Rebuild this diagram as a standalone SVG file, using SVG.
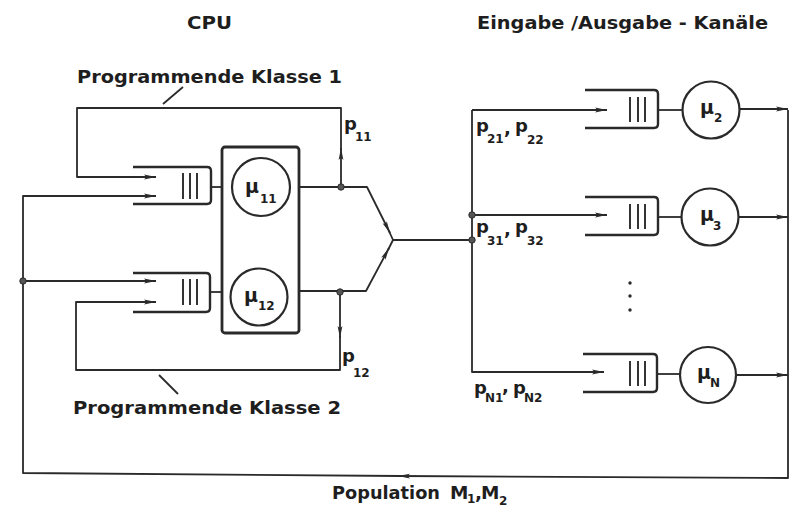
<svg xmlns="http://www.w3.org/2000/svg" width="794" height="515" viewBox="0 0 794 515">
<defs>
<marker id="arr" viewBox="0 0 12 6" refX="12" refY="3" markerWidth="12" markerHeight="6" markerUnits="userSpaceOnUse" orient="auto">
<path d="M0,0.6 L12,3 L0,5.4 L2.5,3 z" fill="#2a2a2a"/>
</marker>
</defs>
<style>
.ln{fill:none;stroke:#2a2a2a;stroke-width:1.8;stroke-linejoin:round}
.q{fill:none;stroke:#2a2a2a;stroke-width:2.4;stroke-linejoin:round}
.bar{stroke:#2a2a2a;stroke-width:1.9}
.srv{fill:none;stroke:#2a2a2a;stroke-width:2.2}
.box{fill:none;stroke:#2a2a2a;stroke-width:2.8}
.dot{fill:#555;stroke:#2a2a2a;stroke-width:1}
text{font-family:"DejaVu Sans","Liberation Sans",sans-serif;fill:#1e1e1e;font-weight:bold}
.t{font-size:18.5px}
.lab{font-size:18px}
.sub{font-size:12px}
.mu{font-size:19px}
</style>
<rect width="794" height="515" fill="#fff"/>

<g id="titles">
<text class="t" x="187" y="29" textLength="45" lengthAdjust="spacingAndGlyphs">CPU</text>
<text class="t" x="477" y="29" textLength="291" lengthAdjust="spacingAndGlyphs">Eingabe /Ausgabe - Kanäle</text>
<text class="t" x="77" y="83" textLength="265" lengthAdjust="spacingAndGlyphs">Programmende Klasse 1</text>
<text class="t" x="73" y="414" textLength="268" lengthAdjust="spacingAndGlyphs">Programmende Klasse 2</text>
<text class="t" x="332" y="499" textLength="108" lengthAdjust="spacingAndGlyphs">Population</text>
<text class="t" x="450" y="499">M</text><text class="sub" x="467" y="503" font-size="10">1</text><text class="t" x="475" y="499">,</text><text class="t" x="481" y="499">M</text><text class="sub" x="499" y="505">2</text>
</g>

<g id="connectors">
<!-- class 1 feedback -->
<path class="ln" d="M341,187 V148" marker-end="url(#arr)"/>
<path class="ln" d="M341,150 V108 H77 V177 H156" marker-end="url(#arr)"/>
<line class="ln" x1="163" y1="104" x2="183" y2="87"/>
<!-- class 2 feedback -->
<path class="ln" d="M340,292 V338" marker-end="url(#arr)"/>
<path class="ln" d="M340,336 V370 H76 V302 H156" marker-end="url(#arr)"/>
<line class="ln" x1="159" y1="375" x2="178" y2="394"/>
<!-- population loop -->
<path class="ln" d="M788,110 V478 L398,476" marker-end="url(#arr)"/>
<path class="ln" d="M400,476 L23,473 V196 H156" marker-end="url(#arr)"/>
<path class="ln" d="M23,281 H156" marker-end="url(#arr)"/>
<!-- CPU queue to box -->
<path class="ln" d="M211,187 H222"/>
<path class="ln" d="M210,292 H222"/>
<!-- CPU outputs merging -->
<path class="ln" d="M299,187 H367 L390,233" marker-end="url(#arr)"/>
<path class="ln" d="M389,231 L393,240"/>
<path class="ln" d="M299,291 H366 L389,248" marker-end="url(#arr)"/>
<path class="ln" d="M388,250 L393,240 H472"/>
<!-- fan out to channels -->
<path class="ln" d="M472,110 H607" marker-end="url(#arr)"/>
<path class="ln" d="M472,110 V372 H604" marker-end="url(#arr)"/>
<path class="ln" d="M472,215 H607" marker-end="url(#arr)"/>
<!-- channel queue to server -->
<path class="ln" d="M658,110 H682"/>
<path class="ln" d="M658,217 H682"/>
<path class="ln" d="M657,374 H680"/>
<!-- channel outputs -->
<path class="ln" d="M740,109 H788" marker-end="url(#arr)"/>
<path class="ln" d="M738,217 H788" marker-end="url(#arr)"/>
<path class="ln" d="M736,375 H788" marker-end="url(#arr)"/>
<!-- junction dots -->
<circle class="dot" cx="341" cy="187" r="3.2"/>
<circle class="dot" cx="340" cy="292" r="3.2"/>
<circle class="dot" cx="23" cy="281" r="3.2"/>
<circle class="dot" cx="472" cy="215" r="3.2"/>
<circle class="dot" cx="472" cy="240" r="3.2"/>
<!-- branch probabilities -->
<text class="lab" x="344" y="130">p</text><text class="sub" x="355" y="141">11</text>
<text class="lab" x="342" y="362">p</text><text class="sub" x="353" y="377">12</text>
<text class="lab" x="476" y="132">p</text><text class="sub" x="487" y="143">21</text><text class="lab" x="504" y="134">,</text><text class="lab" x="515" y="132">p</text><text class="sub" x="527" y="144">22</text>
<text class="lab" x="476" y="233">p</text><text class="sub" x="487" y="245">31</text><text class="lab" x="504" y="235">,</text><text class="lab" x="515" y="233">p</text><text class="sub" x="527" y="245">32</text>
<text class="lab" x="474" y="394">p</text><text class="sub" x="485" y="402" font-size="9">N1</text><text class="lab" x="502" y="392">,</text><text class="lab" x="513" y="394">p</text><text class="sub" x="524" y="402" font-size="9">N2</text>
<!-- ellipsis dots -->
<circle cx="630" cy="283" r="1.7" fill="#2a2a2a"/>
<circle cx="630" cy="296" r="1.7" fill="#2a2a2a"/>
<circle cx="630" cy="310" r="1.7" fill="#2a2a2a"/>
</g>

<g id="queue11">
<path class="q" d="M133,167 H207 Q211,167 211,171 V200 Q211,204 207,204 H133"/>
<line class="bar" x1="183" y1="173" x2="183" y2="199"/><line class="bar" x1="190" y1="173" x2="190" y2="199"/><line class="bar" x1="197" y1="173" x2="197" y2="199"/>
</g>
<g id="queue12">
<path class="q" d="M133,273 H206 Q210,273 210,277 V308 Q210,312 206,312 H133"/>
<line class="bar" x1="183" y1="279" x2="183" y2="305"/><line class="bar" x1="190" y1="279" x2="190" y2="305"/><line class="bar" x1="197" y1="279" x2="197" y2="305"/>
</g>
<g id="cpu">
<rect class="box" x="222" y="147" width="77" height="186" rx="3"/>
</g>
<g id="server11">
<circle class="srv" cx="261" cy="187" r="29"/>
<text class="mu" x="245" y="193">μ</text><text class="sub" x="260" y="203">11</text>
</g>
<g id="server12">
<circle class="srv" cx="259" cy="297" r="28.5"/>
<text class="mu" x="244" y="302">μ</text><text class="sub" x="258" y="310">12</text>
</g>

<g id="queue2">
<path class="q" d="M585,90 H654 Q658,90 658,94 V124 Q658,128 654,128 H585"/>
<line class="bar" x1="630" y1="97" x2="630" y2="122"/><line class="bar" x1="638" y1="97" x2="638" y2="122"/><line class="bar" x1="645" y1="97" x2="645" y2="122"/>
</g>
<g id="server2">
<circle class="srv" cx="711" cy="110" r="28.5"/>
<text class="mu" x="700" y="114">μ</text><text class="sub" x="714" y="122">2</text>
</g>
<g id="queue3">
<path class="q" d="M585,197 H654 Q658,197 658,201 V231 Q658,235 654,235 H585"/>
<line class="bar" x1="630" y1="204" x2="630" y2="229"/><line class="bar" x1="638" y1="204" x2="638" y2="229"/><line class="bar" x1="645" y1="204" x2="645" y2="229"/>
</g>
<g id="server3">
<circle class="srv" cx="710" cy="217" r="28.5"/>
<text class="mu" x="700" y="221">μ</text><text class="sub" x="713" y="230">3</text>
</g>
<g id="queueN">
<path class="q" d="M583,354 H653 Q657,354 657,358 V388 Q657,392 653,392 H583"/>
<line class="bar" x1="630" y1="361" x2="630" y2="386"/><line class="bar" x1="638" y1="361" x2="638" y2="386"/><line class="bar" x1="645" y1="361" x2="645" y2="386"/>
</g>
<g id="serverN">
<circle class="srv" cx="708" cy="375" r="28"/>
<text class="mu" x="697" y="379">μ</text><text class="sub" x="710" y="387" font-size="10">N</text>
</g>
</svg>
